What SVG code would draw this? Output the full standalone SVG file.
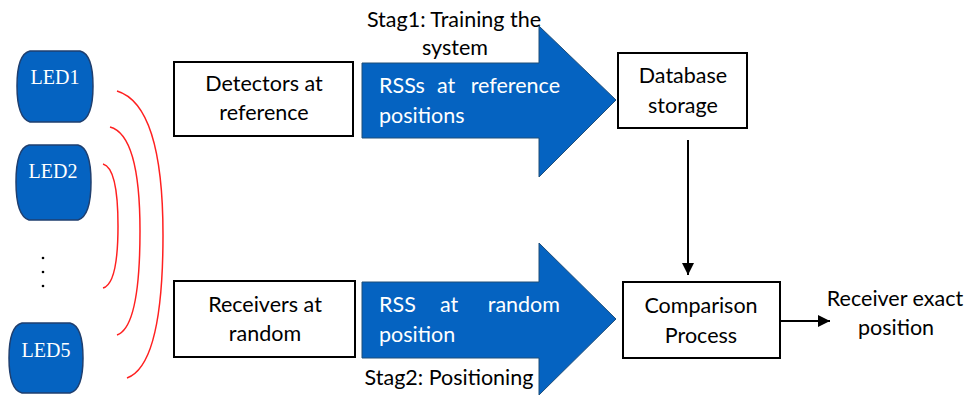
<svg xmlns="http://www.w3.org/2000/svg" width="966" height="396" viewBox="0 0 966 396">
<defs>
<style>
.box{fill:#fff;stroke:#000;stroke-width:2}
.led{fill:#0563C1;stroke:#1F3F6F;stroke-width:1.5}
.big{fill:#0563C1;stroke:#1F4E79;stroke-width:1}
.lt{font-family:"Liberation Serif",serif;font-size:20px;fill:#fff;text-anchor:middle}
.t{font-family:Lato,"Liberation Sans",sans-serif;font-size:21.5px;fill:#000;text-anchor:middle}
.w{font-family:Lato,"Liberation Sans",sans-serif;font-size:21.5px;fill:#fff}
.wave{fill:none;stroke:#FF2020;stroke-width:1.5}
.con{fill:none;stroke:#000;stroke-width:2}
</style>
<marker id="ah" viewBox="0 0 10 10" refX="10" refY="5" markerWidth="6" markerHeight="6" markerUnits="strokeWidth" orient="auto">
<path d="M0,0 L10,5 L0,10 Z" fill="#000"/>
</marker>
</defs>
<rect width="966" height="396" fill="#fff"/>

<g id="led1"><path class="led" d="M30,51 L80,51 Q93,54 93,86 Q93,118 80,122 L30,122 Q17,118 17,86 Q17,54 30,51 Z"/><text class="lt" x="55" y="84">LED1</text></g>
<g id="led2"><path class="led" d="M29,145 L78,145 Q91,148 91,182 Q91,216 78,220 L29,220 Q16,216 16,182 Q16,148 29,145 Z"/><text class="lt" x="53" y="178">LED2</text></g>
<g id="dots"><circle cx="43" cy="258" r="1.3" fill="#000"/><circle cx="43" cy="272" r="1.3" fill="#000"/><circle cx="43" cy="286" r="1.3" fill="#000"/></g>
<g id="led5"><path class="led" d="M22,323 L70,323 Q83,326 83,358 Q83,390 70,393 L22,393 Q9,390 9,358 Q9,326 22,323 Z"/><text class="lt" x="46" y="357">LED5</text></g>

<g id="waves">
<path class="wave" d="M117,91 Q163,105 163,235 Q163,365 127,378"/>
<path class="wave" d="M110,127 Q140,135 140,231 Q140,327 117,335"/>
<path class="wave" d="M103,164 Q118,168 118,226 Q118,284 103,288"/>
</g>

<g id="detectors"><rect class="box" x="174" y="62" width="179" height="74"/><text class="t" x="264" y="91">Detectors at</text><text class="t" x="264" y="120">reference</text></g>
<g id="receivers"><rect class="box" x="174" y="281" width="181" height="76"/><text class="t" x="265" y="312">Receivers at</text><text class="t" x="265" y="341">random</text></g>

<g id="arrow1"><path class="big" d="M362,63 L539,63 L539,26 L616,100 L539,177 L539,138 L362,138 Z"/>
<text class="w" x="379" y="93">RSSs</text><text class="w" x="437" y="93">at</text><text class="w" x="560" y="93" text-anchor="end">reference</text>
<text class="w" x="379" y="123">positions</text></g>
<g id="stage1"><text class="t" x="454" y="27">Stag1: Training the</text><text class="t" x="455" y="55">system</text></g>

<g id="arrow2"><path class="big" d="M362,282 L539,282 L539,243 L616,319 L539,395 L539,358 L362,358 Z"/>
<text class="w" x="379" y="312">RSS</text><text class="w" x="440" y="312">at</text><text class="w" x="560" y="312" text-anchor="end">random</text>
<text class="w" x="379" y="342">position</text></g>
<g id="stage2"><text class="t" x="449" y="385">Stag2: Positioning</text></g>

<g id="database"><rect class="box" x="618" y="53" width="129" height="75"/><text class="t" x="683" y="83">Database</text><text class="t" x="683" y="113">storage</text></g>
<g id="comparison"><rect class="box" x="623" y="282" width="157" height="76"/><text class="t" x="701" y="313">Comparison</text><text class="t" x="701" y="343">Process</text></g>
<g id="output"><text class="t" x="895" y="306">Receiver exact</text><text class="t" x="896" y="335">position</text></g>

<g id="connectors">
<line class="con" x1="688" y1="140" x2="688" y2="275" marker-end="url(#ah)"/>
<line class="con" x1="780" y1="321" x2="830" y2="321" marker-end="url(#ah)"/>
</g>
</svg>
